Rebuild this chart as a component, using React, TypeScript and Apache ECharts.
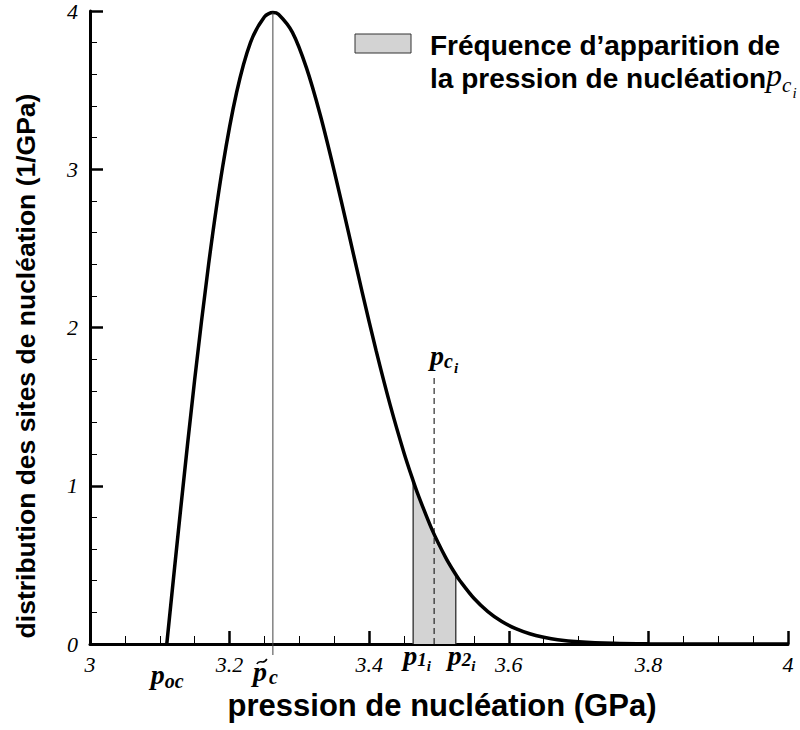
import React, { useEffect, useRef } from "react";
import * as echarts from "echarts";

// Nucleation pressure (GPa) and distribution density (1/GPa)
const pressure = [3.11, 3.13, 3.15, 3.17, 3.19, 3.21, 3.23, 3.25, 3.262, 3.27, 3.29, 3.31, 3.33, 3.35, 3.37, 3.39, 3.41, 3.43, 3.45, 3.463, 3.47, 3.49, 3.51, 3.524, 3.53, 3.55, 3.57, 3.59, 3.61, 3.63, 3.65, 3.67, 3.7, 3.75, 3.8, 3.9, 4.0];
const density = [0, 0.858, 1.672, 2.402, 3.014, 3.485, 3.802, 3.964, 3.99, 3.979, 3.865, 3.642, 3.341, 2.987, 2.607, 2.222, 1.852, 1.511, 1.206, 1.031, 0.944, 0.723, 0.543, 0.439, 0.4, 0.289, 0.205, 0.142, 0.097, 0.065, 0.043, 0.027, 0.014, 0.004, 0.001, 0, 0];

// Shaded interval [p1_i, p2_i]
const shadePressure = [3.463, 3.47, 3.49, 3.51, 3.524];
const shadeDensity = [1.031, 0.944, 0.723, 0.543, 0.439];

// Annotated pressures
const pOc = 3.11;
const pMode = 3.262;
const modeDensity = 3.99;
const p1 = 3.463;
const p2 = 3.524;
const pCi = 3.493;
const pCiTop = 1.7;

const xTicks = ["3", "3.2", "3.4", "3.6", "3.8", "4"];
const yTicks = ["0", "1", "2", "3", "4"];

const legendLine1 = "Fréquence d’apparition de";
const legendLine2 = "la pression de nucléation";
const xTitle = "pression de nucléation (GPa)";
const yTitle = "distribution des sites de nucléation (1/GPa)";

const serif = "Liberation Serif, Times New Roman, serif";
const sans = "Liberation Sans, Arial, sans-serif";

type Piece = { t: string; size: number; style: string; family: string; dy?: number; gap?: number };

export default function App() {
  const ref = useRef<HTMLDivElement>(null);
  useEffect(() => {
    document.body.style.margin = "0";
    const chart = echarts.init(ref.current!, null, { renderer: "svg" });
    const curve = pressure.map((p, i) => [p, density[i]]);
    const shade = [[shadePressure[0], 0], ...shadePressure.map((p, i) => [p, shadeDensity[i]]), [shadePressure[shadePressure.length - 1], 0]];

    chart.setOption({
      animation: false,
      grid: { left: 90, right: 12, top: 10, bottom: 86, containLabel: false },
      xAxis: {
        type: "value",
        min: 3,
        max: 4,
        interval: 0.2,
        splitLine: { show: false },
        axisLine: { onZero: false, lineStyle: { color: "#000", width: 3 } },
        axisTick: { inside: true, length: 13, lineStyle: { color: "#000", width: 2.5 } },
        minorTick: { show: true, splitNumber: 4, length: 8, lineStyle: { color: "#000", width: 1 } },
        axisLabel: {
          color: "#000",
          fontFamily: serif,
          fontStyle: "italic",
          fontSize: 22,
          margin: 9,
          formatter: (v: number) => xTicks[Math.round((v - 3) / 0.2)] ?? "",
        },
      },
      yAxis: {
        type: "value",
        min: 0,
        max: 4,
        interval: 1,
        splitLine: { show: false },
        axisLine: { onZero: false, lineStyle: { color: "#000", width: 3 } },
        axisTick: { inside: true, length: 13, lineStyle: { color: "#000", width: 2.5 } },
        minorTick: { show: true, splitNumber: 5, length: 7, lineStyle: { color: "#000", width: 1 } },
        axisLabel: {
          color: "#000",
          fontFamily: serif,
          fontStyle: "italic",
          fontSize: 22,
          margin: 12,
          formatter: (v: number) => yTicks[Math.round(v)] ?? "",
        },
      },
      series: [
        {
          type: "line",
          data: shade,
          showSymbol: false,
          silent: true,
          lineStyle: { color: "#444", width: 1.5 },
          areaStyle: { color: "#d3d3d3", opacity: 1 },
          z: 1,
        },
        {
          type: "line",
          data: [[pCi, 0], [pCi, pCiTop]],
          showSymbol: false,
          silent: true,
          lineStyle: { color: "#000", width: 1, type: [6, 4] },
          z: 2,
        },
        {
          type: "line",
          data: curve,
          smooth: 0.3,
          showSymbol: false,
          silent: true,
          lineStyle: { color: "#000", width: 3.5 },
          z: 3,
        },
      ],
    });

    const px = (x: number, y: number) => chart.convertToPixel({ gridIndex: 0 }, [x, y]) as number[];
    const ctx = document.createElement("canvas").getContext("2d")!;
    const measure = (t: string, font: string) => {
      ctx.font = font;
      return ctx.measureText(t).width;
    };
    const label = (x0: number, baseline: number, pieces: Piece[]) => {
      let x = x0;
      return pieces.map((p) => {
        const font = `${p.style} ${p.size}px ${p.family}`;
        const el = {
          type: "text",
          x,
          y: baseline + (p.dy || 0) - 0.34 * p.size,
          silent: true,
          style: { text: p.t, font, fill: "#000", textAlign: "left", textVerticalAlign: "middle" },
        };
        x += measure(p.t, font) + (p.gap || 0);
        return el;
      });
    };
    const bi = "italic bold";
    const sub = (t: string, size: number, dy: number, gap = 0): Piece => ({ t, size, style: bi, family: serif, dy, gap });

    const modeTop = px(pMode, modeDensity);
    const origin = px(3, 0);
    const poc = px(pOc, 0);
    const a1 = px(p1, 0);
    const a2 = px(p2, 0);
    const ci = px(pCi, pCiTop);

    const legendFont = `bold 28px ${sans}`;
    const line2W = measure(legendLine2, legendFont);
    const tx = modeTop[0] - 20; // left of the p-tilde label

    const graphics: any[] = [
      {
        type: "line",
        silent: true,
        shape: { x1: modeTop[0], y1: modeTop[1], x2: modeTop[0], y2: origin[1] + 11 },
        style: { stroke: "#444", lineWidth: 1 },
        z: 5,
      },
      // legend
      {
        type: "rect",
        silent: true,
        shape: { x: 355, y: 34, width: 56, height: 19 },
        style: { fill: "#d3d3d3", stroke: "#333", lineWidth: 1 },
      },
      { type: "text", silent: true, x: 430, y: 55 - 0.35 * 28, style: { text: legendLine1, font: legendFont, fill: "#000", textAlign: "left", textVerticalAlign: "middle" } },
      { type: "text", silent: true, x: 430, y: 88 - 0.35 * 28, style: { text: legendLine2, font: legendFont, fill: "#000", textAlign: "left", textVerticalAlign: "middle" } },
      ...label(430 + line2W, 86, [
        { t: "p", size: 32, style: "italic", family: serif },
        { t: "c", size: 21, style: "italic", family: serif, dy: 6, gap: 1 },
        { t: "i", size: 15, style: "italic", family: serif, dy: 12 },
      ]),
      // titles
      { type: "text", silent: true, x: 442, y: 705, style: { text: xTitle, font: `bold 31px ${sans}`, fill: "#000", textAlign: "center", textVerticalAlign: "middle" } },
      { type: "text", silent: true, x: 26, y: 366, rotation: Math.PI / 2, style: { text: yTitle, font: `bold 26.5px ${sans}`, fill: "#000", textAlign: "center", textVerticalAlign: "middle" } },
      // point labels
      ...label(poc[0] - 16, 684, [sub("p", 28, 0), sub("oc", 20, 4)]),
      ...label(tx, 681, [sub("p", 28, 0, 2), sub("c", 20, 3)]),
      {
        type: "bezierCurve",
        silent: true,
        shape: { x1: tx + 4, y1: 664, cpx1: tx + 7, cpy1: 658, cpx2: tx + 10, cpy2: 666, x2: tx + 14, y2: 659 },
        style: { stroke: "#000", lineWidth: 1.6, fill: "none" },
      },
      ...label(a1[0] - 10, 665, [sub("p", 28, 0), sub("1", 19, 1), sub("i", 15, 6)]),
      ...label(a2[0] - 8, 665, [sub("p", 28, 0), sub("2", 19, 1), sub("i", 15, 6)]),
      ...label(ci[0] - 4, 365, [sub("p", 28, 0), sub("c", 20, 3, 1), sub("i", 15, 8)]),
    ];
    chart.setOption({ graphic: graphics });

    return () => chart.dispose();
  }, []);
  return <div ref={ref} style={{ width: 800, height: 730 }} />;
}
